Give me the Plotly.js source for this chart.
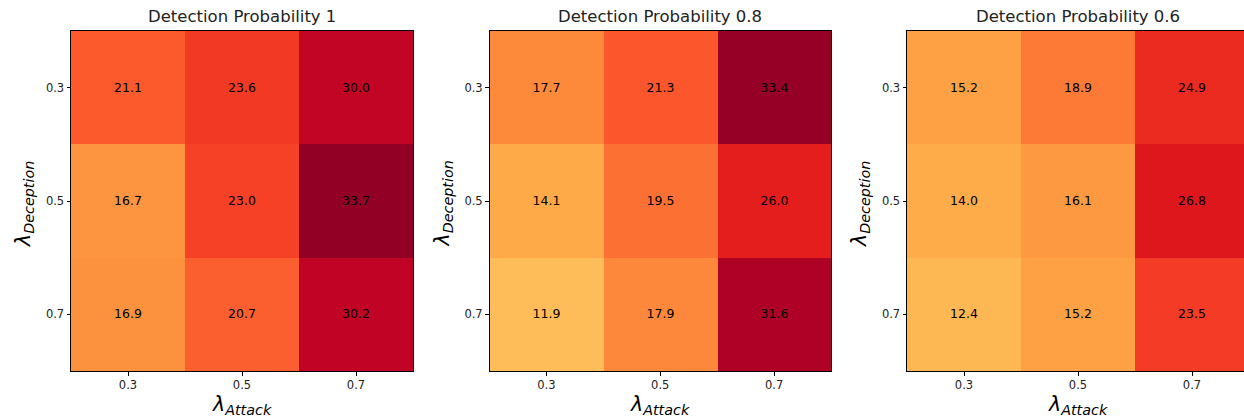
<!DOCTYPE html>
<html>
<head>
<meta charset="utf-8">
<script src="https://cdn.plot.ly/plotly-3.0.1.min.js"></script>
<style>
html, body { margin: 0; padding: 0; overflow: hidden; background: #fff; }
#chart { width: 1252px; height: 420px; }
</style>
</head>
<body>
<div id="chart"></div>
<script>
// ---- data ----
const attackLabels = ['0.3', '0.5', '0.7'];
const deceptionLabels = ['0.3', '0.5', '0.7'];
const panelTitles = ['Detection Probability 1', 'Detection Probability 0.8', 'Detection Probability 0.6'];
const detProb1 = [[21.1, 23.6, 30.0], [16.7, 23.0, 33.7], [16.9, 20.7, 30.2]];
const detProb08 = [[17.7, 21.3, 33.4], [14.1, 19.5, 26.0], [11.9, 17.9, 31.6]];
const detProb06 = [[15.2, 18.9, 24.9], [14.0, 16.1, 26.8], [12.4, 15.2, 23.5]];
const panels = [detProb1, detProb08, detProb06];

// ---- style ----
const W = 1252, H = 420;
const ylorrd = [
  [0.0, '#ffffcc'], [0.125, '#ffeda0'], [0.25, '#fed976'], [0.375, '#feb24c'],
  [0.5, '#fd8d3c'], [0.625, '#fc4e2a'], [0.75, '#e31a1c'], [0.875, '#bd0026'], [1.0, '#800026']
];
const FONT = 'DejaVu Sans, sans-serif';
const pxDomains = [[71, 413], [489.5, 831], [907, 1249]];
const yTop = 31, yBot = 371;

const data = [];
const layout = {
  width: W, height: H,
  margin: {l: 0, r: 0, t: 0, b: 0},
  paper_bgcolor: '#fff', plot_bgcolor: '#fff',
  showlegend: false,
  font: {family: FONT, color: '#000'},
  annotations: []
};

panels.forEach((z, i) => {
  const n = i === 0 ? '' : String(i + 1);
  data.push({
    type: 'heatmap',
    z: z, x: attackLabels, y: deceptionLabels,
    xaxis: 'x' + n, yaxis: 'y' + n,
    colorscale: ylorrd, zmin: 0, zmax: 35,
    showscale: false,
    texttemplate: '%{z:.1f}',
    textfont: {family: FONT, size: 12.5, color: '#000'},
    hoverinfo: 'skip'
  });
  const d = pxDomains[i];
  const axCommon = {
    type: 'category',
    showgrid: false, zeroline: false,
    showline: true, mirror: true, linecolor: '#000', linewidth: 1,
    ticks: 'outside', ticklen: 3.5, tickcolor: '#000', tickwidth: 1,
    tickfont: {family: FONT, size: 11.5, color: '#222'}
  };
  layout['xaxis' + n] = Object.assign({}, axCommon, {
    domain: [d[0] / W, d[1] / W], anchor: 'y' + n, range: [-0.5, 2.5]
  });
  layout['yaxis' + n] = Object.assign({}, axCommon, {
    domain: [1 - yBot / H, 1 - yTop / H], anchor: 'x' + n, range: [2.5, -0.5]
  });
  const cx = (d[0] + d[1]) / 2 / W;
  layout.annotations.push({
    text: panelTitles[i], xref: 'paper', yref: 'paper',
    x: cx, y: 1 - 17 / H, xanchor: 'center', yanchor: 'middle',
    showarrow: false, font: {family: FONT, size: 16.5, color: '#222'}
  });
  layout.annotations.push({
    text: '<i>λ</i><sub><i>Attack</i></sub>', xref: 'paper', yref: 'paper',
    x: cx, y: 1 - 405 / H, xanchor: 'center', yanchor: 'middle',
    showarrow: false, font: {family: FONT, size: 20.5, color: '#000'}
  });
  layout.annotations.push({
    text: '<i>λ</i><sub><i>Deception</i></sub>', xref: 'paper', yref: 'paper',
    x: (d[0] - 47) / W, y: 1 - 204 / H, xanchor: 'center', yanchor: 'middle',
    textangle: -90,
    showarrow: false, font: {family: FONT, size: 20.5, color: '#000'}
  });
});

Plotly.newPlot('chart', data, layout, {staticPlot: true, displayModeBar: false});
</script>
</body>
</html>
